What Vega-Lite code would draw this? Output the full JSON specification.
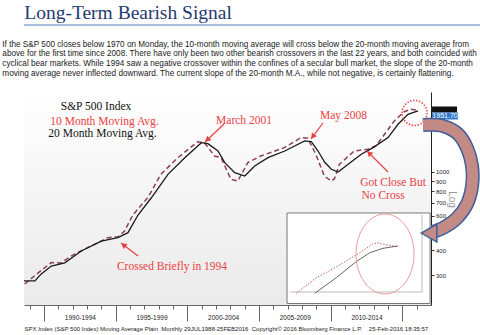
{
  "$schema": "https://vega.github.io/schema/vega-lite/v6.json",
  "padding": {"left": 2, "right": 0, "top": 2, "bottom": 0},
  "spacing": 13,
  "config": {"view": {"stroke": null}, "font": "Liberation Sans"},
  "datasets": {
    "ma20": [
      {"t": 1988.60, "v": 280}, {"t": 1989.37, "v": 280}, {"t": 1989.79, "v": 303}, {"t": 1990.51, "v": 333},
      {"t": 1991.45, "v": 346}, {"t": 1992.60, "v": 397}, {"t": 1994.00, "v": 446}, {"t": 1995.16, "v": 464},
      {"t": 1995.86, "v": 492}, {"t": 1996.56, "v": 605}, {"t": 1997.49, "v": 740}, {"t": 1998.65, "v": 973},
      {"t": 1999.82, "v": 1182}, {"t": 2000.98, "v": 1408}, {"t": 2001.44, "v": 1392}, {"t": 2002.14, "v": 1278},
      {"t": 2002.61, "v": 1115}, {"t": 2003.31, "v": 992}, {"t": 2004.01, "v": 954}, {"t": 2004.70, "v": 1073},
      {"t": 2005.63, "v": 1182}, {"t": 2006.80, "v": 1278}, {"t": 2008.19, "v": 1437}, {"t": 2008.65, "v": 1425},
      {"t": 2009.12, "v": 1278}, {"t": 2009.59, "v": 1120}, {"t": 2010.05, "v": 1032}, {"t": 2010.52, "v": 1000},
      {"t": 2011.22, "v": 1094}, {"t": 2012.14, "v": 1230}, {"t": 2012.96, "v": 1329}, {"t": 2014.01, "v": 1494},
      {"t": 2014.70, "v": 1747}, {"t": 2015.40, "v": 1963}, {"t": 2016.10, "v": 2040}
    ],
    "ma10": [
      {"t": 1988.65, "v": 270}, {"t": 1989.93, "v": 322}, {"t": 1990.51, "v": 347}, {"t": 1991.18, "v": 345},
      {"t": 1991.90, "v": 375}, {"t": 1993.28, "v": 421}, {"t": 1994.46, "v": 464}, {"t": 1995.16, "v": 469},
      {"t": 1995.62, "v": 502}, {"t": 1996.20, "v": 605}, {"t": 1997.26, "v": 744}, {"t": 1998.15, "v": 973},
      {"t": 1999.34, "v": 1182}, {"t": 2000.73, "v": 1425}, {"t": 2001.20, "v": 1408}, {"t": 2001.90, "v": 1206},
      {"t": 2002.36, "v": 1182}, {"t": 2002.72, "v": 1032}, {"t": 2003.05, "v": 918}, {"t": 2003.52, "v": 900},
      {"t": 2004.22, "v": 1115}, {"t": 2005.12, "v": 1206}, {"t": 2006.77, "v": 1329}, {"t": 2007.93, "v": 1494},
      {"t": 2008.40, "v": 1483}, {"t": 2008.96, "v": 1234}, {"t": 2009.56, "v": 954}, {"t": 2010.05, "v": 900},
      {"t": 2010.26, "v": 922}, {"t": 2010.61, "v": 1094}, {"t": 2011.65, "v": 1278}, {"t": 2012.58, "v": 1304},
      {"t": 2013.16, "v": 1355}, {"t": 2014.44, "v": 1815}, {"t": 2015.13, "v": 2023}, {"t": 2015.60, "v": 2081},
      {"t": 2016.10, "v": 2057}
    ],
    "insetDot": [
      {"t": 2007.607, "v": 242.3}, {"t": 2009.003, "v": 290.7}, {"t": 2010.517, "v": 333.3}, {"t": 2012.031, "v": 389.4},
      {"t": 2012.959, "v": 432.5}, {"t": 2013.308, "v": 437.6}, {"t": 2013.657, "v": 429.5}, {"t": 2014.704, "v": 417.6}
    ],
    "insetSolid": [
      {"t": 2008.891, "v": 242.3}, {"t": 2010.398, "v": 290.7}, {"t": 2011.682, "v": 346.4}, {"t": 2012.729, "v": 389.4},
      {"t": 2013.657, "v": 409.9}, {"t": 2014.704, "v": 421.1}
    ],
    "bigArrow": [
      {"i": 0, "t": 2016.448, "v": 1733}, {"i": 1, "t": 2017.844, "v": 1712}, {"i": 2, "t": 2018.891, "v": 1559},
      {"i": 3, "t": 2019.519, "v": 1323}, {"i": 4, "t": 2019.868, "v": 1073}, {"i": 5, "t": 2019.868, "v": 849},
      {"i": 6, "t": 2019.519, "v": 688}, {"i": 7, "t": 2018.821, "v": 584}, {"i": 8, "t": 2017.844, "v": 520},
      {"i": 9, "t": 2017.146, "v": 496}
    ],
    "redArrows": [
      {"t": 2002.561, "v": 1753, "t2": 2001.235, "v2": 1420},
      {"t": 2009.470, "v": 1773, "t2": 2008.632, "v2": 1471},
      {"t": 2014.006, "v": 1000, "t2": 2012.540, "v2": 1278},
      {"t": 1996.560, "v": 374.6, "t2": 1995.373, "v2": 436}
    ],
    "blackText": [
      {"t": 1993.629, "v": 2138, "label": "S&P 500 Index"},
      {"t": 1994.082, "v": 1559, "label": "20 Month Moving Avg."}
    ],
    "redText": [
      {"t": 1994.222, "v": 1800, "label": "10 Month Moving Avg."},
      {"t": 2003.957, "v": 1815, "label": "March 2001"},
      {"t": 2010.900, "v": 1924, "label": "May 2008"},
      {"t": 2014.355, "v": 876, "label": "Got Close But"},
      {"t": 2013.657, "v": 755, "label": "No Cross"},
      {"t": 1998.932, "v": 329.5, "label": "Crossed Briefly in 1994"}
    ]
  },
  "vconcat": [
    {
      "width": 472,
      "height": 1,
      "title": {"text": "Long-Term Bearish Signal", "anchor": "start", "dx": 1, "font": "Liberation Serif", "fontSize": 19.5, "fontWeight": "normal", "color": "#1F3B70", "offset": 1},
      "data": {"values": [{"v": 0}]},
      "mark": {"type": "rule", "color": "#8EA9D8", "strokeWidth": 1.5},
      "encoding": {"y": {"field": "v", "type": "quantitative", "axis": null, "scale": {"domain": [0, 1]}}}
    },
    {
      "width": 407,
      "height": 213,
      "title": {
        "text": [
          "If the S&P 500 closes below 1970 on Monday, the 10-month moving average will cross below the 20-month moving average from",
          "above for the first time since 2008. There have only been two other bearish crossovers in the last 22 years, and both coincided with",
          "cyclical bear markets. While 1994 saw a negative crossover within the confines of a secular bull market, the slope of the 20-month",
          "moving average never inflected downward. The current slope of the 20-month M.A., while not negative, is certainly flattening."
        ],
        "anchor": "start", "dx": -19, "font": "Liberation Sans", "fontSize": 8.2, "fontWeight": "normal", "color": "#1a1a1a", "lineHeight": 9.7, "offset": 14
      },
      "encoding": {
        "x": {
          "field": "t", "type": "quantitative",
          "scale": {"domain": [1988.604, 2017.004], "nice": false, "zero": false},
          "axis": {
            "values": [1989, 1990, 1991, 1992, 1993, 1994, 1995, 1996, 1997, 1998, 1999, 2000, 2001, 2002, 2003, 2004, 2005, 2006, 2007, 2008, 2009, 2010, 2011, 2012, 2013, 2014, 2015, 2016, 1992.5, 1997.5, 2002.5, 2007.5, 2012.5],
            "labelExpr": "datum.value % 5 == 2.5 ? (datum.value - 2.5) + '-' + (datum.value + 1.5) : ''",
            "tickSize": {"condition": {"test": "datum.value % 5 == 0", "value": 16}, "value": 4},
            "tickOpacity": {"condition": {"test": "datum.value % 5 == 2.5", "value": 0}, "value": 1},
            "tickColor": "#666", "domainColor": "#666", "grid": false,
            "labelFontSize": 6.5, "labelColor": "#222", "labelPadding": 5, "labelOverlap": false, "labelFlush": false,
            "title": "SPX Index (S&P 500 Index) Moving Average Plain\u00a0\u00a0Monthly 29JUL1988-25FEB2016\u00a0\u00a0Copyright\u00a9 2016 Bloomberg Finance L.P.\u00a0\u00a0\u00a0\u00a025-Feb-2016 18:35:57",
            "titleFontSize": 6.0, "titleFontWeight": "normal", "titleColor": "#222", "titleX": 0, "titleY": 23, "titleAlign": "left", "titleBaseline": "middle"
          }
        },
        "y": {
          "field": "v", "type": "quantitative",
          "scale": {"type": "log", "domain": [211.3, 2547], "nice": false, "zero": false},
          "axis": {
            "orient": "right", "values": [300, 400, 600, 700, 800, 900, 1000], "format": "d",
            "tickSize": 3, "tickColor": "#333", "domainColor": "#222", "grid": false,
            "labelFontSize": 6, "labelPadding": 1.5, "labelColor": "#222",
            "title": "Log", "titleAngle": 90, "titleFontSize": 10, "titleColor": "#999", "titleFontWeight": "normal",
            "titleX": 20, "titleY": 107, "titleAlign": "center", "titleBaseline": "middle"
          }
        }
      },
      "layer": [
        {
          "data": {"values": [{"t": 1988.604, "t2": 2017.004, "v": 211.3, "v2": 2547}]},
          "mark": {"type": "rect", "color": {"gradient": "linear", "x1": 0, "y1": 0, "x2": 0, "y2": 1, "stops": [{"offset": 0, "color": "#FFFFFF"}, {"offset": 1, "color": "#EAEAEA"}]}},
          "encoding": {"x2": {"field": "t2"}, "y2": {"field": "v2"}}
        },
        {
          "data": {"name": "ma10"},
          "mark": {"type": "line", "color": "#8E3F55", "strokeDash": [5, 3], "strokeWidth": 1.5},
          "encoding": {}
        },
        {
          "data": {"name": "ma20"},
          "mark": {"type": "line", "color": "#1a1a1a", "strokeWidth": 1.3},
          "encoding": {}
        },
        {
          "data": {"name": "blackText"},
          "mark": {"type": "text", "font": "Liberation Serif", "fontSize": 11.5, "color": "#111", "align": "center", "baseline": "middle"},
          "encoding": {"text": {"field": "label"}}
        },
        {
          "data": {"name": "redText"},
          "mark": {"type": "text", "font": "Liberation Serif", "fontSize": 11.5, "color": "#E8403F", "align": "center", "baseline": "middle"},
          "encoding": {"text": {"field": "label"}}
        },
        {
          "data": {"name": "redArrows"},
          "mark": {"type": "rule", "color": "#E8403F", "strokeWidth": 1.2},
          "encoding": {"x2": {"field": "t2"}, "y2": {"field": "v2"}}
        },
        {
          "data": {"values": [{"t": 2001.389, "v": 1455}]},
          "mark": {"type": "point", "shape": "triangle-up", "angle": 226.5, "filled": true, "color": "#E8403F", "size": 40, "opacity": 1},
          "encoding": {}
        },
        {
          "data": {"values": [{"t": 2008.758, "v": 1512}]},
          "mark": {"type": "point", "shape": "triangle-up", "angle": 216.9, "filled": true, "color": "#E8403F", "size": 40, "opacity": 1},
          "encoding": {}
        },
        {
          "data": {"values": [{"t": 2012.687, "v": 1247}]},
          "mark": {"type": "point", "shape": "triangle-up", "angle": 315, "filled": true, "color": "#E8403F", "size": 40, "opacity": 1},
          "encoding": {}
        },
        {
          "data": {"values": [{"t": 1995.541, "v": 427}]},
          "mark": {"type": "point", "shape": "triangle-up", "angle": 307.4, "filled": true, "color": "#E8403F", "size": 40, "opacity": 1},
          "encoding": {}
        },
        {
          "data": {"values": [{"t": 2006.957, "t2": 2016.937, "v": 215.0, "v2": 619.4}]},
          "mark": {"type": "rect", "fill": "#FFFFFF", "stroke": "#777", "strokeWidth": 1},
          "encoding": {"x2": {"field": "t2"}, "y2": {"field": "v2"}}
        },
        {
          "data": {"values": [{"t": 2016.378, "t2": 2016.378, "v": 246, "v2": 605}, {"t": 2007.167, "t2": 2016.378, "v": 246, "v2": 246}]},
          "mark": {"type": "rule", "color": "#AAAAAA", "strokeWidth": 0.8},
          "encoding": {"x2": {"field": "t2"}, "y2": {"field": "v2"}}
        },
        {
          "data": {"name": "insetDot"},
          "mark": {"type": "line", "color": "#D06070", "strokeDash": [1.5, 1.5], "strokeWidth": 1},
          "encoding": {}
        },
        {
          "data": {"name": "insetSolid"},
          "mark": {"type": "line", "color": "#555", "strokeWidth": 0.9},
          "encoding": {}
        },
        {
          "data": {"values": [{"t": 2013.796, "v": 383.5}]},
          "mark": {"type": "point", "shape": "M -0.725 0 A 0.725 1 0 1 1 0.725 0 A 0.725 1 0 1 1 -0.725 0 Z", "filled": false, "stroke": "#EE9A9A", "strokeWidth": 1, "size": 6400, "opacity": 1},
          "encoding": {}
        },
        {
          "data": {"values": [{"t": 2015.855, "v": 1993}]},
          "mark": {"type": "point", "shape": "circle", "filled": false, "stroke": "#E84C4C", "strokeDash": [1.5, 1.5], "strokeWidth": 1.6, "size": 625, "opacity": 1},
          "encoding": {}
        },
        {
          "data": {"values": [{"t": 2017.076, "t2": 2018.821, "v": 2005, "v2": 2150}]},
          "mark": {"type": "rect", "color": "#111111"},
          "encoding": {"x2": {"field": "t2"}, "y2": {"field": "v2"}}
        },
        {
          "data": {"values": [{"t": 2017.076, "t2": 2018.891, "v": 1847, "v2": 2005}]},
          "mark": {"type": "rect", "color": "#2F78C8"},
          "encoding": {"x2": {"field": "t2"}, "y2": {"field": "v2"}}
        },
        {
          "data": {"values": [{"t": 2017.983, "v": 1924, "label": "1951.70"}]},
          "mark": {"type": "text", "color": "#FFFFFF", "fontSize": 7, "align": "center", "baseline": "middle"},
          "encoding": {"text": {"field": "label"}}
        },
        {
          "data": {"name": "bigArrow"},
          "mark": {"type": "line", "color": "#3F5F9A", "strokeWidth": 14, "strokeCap": "butt", "interpolate": "catmull-rom"},
          "encoding": {"order": {"field": "i", "type": "quantitative"}}
        },
        {
          "data": {"name": "bigArrow"},
          "mark": {"type": "line", "color": "#C48A86", "strokeWidth": 11, "strokeCap": "butt", "interpolate": "catmull-rom"},
          "encoding": {"order": {"field": "i", "type": "quantitative"}}
        },
        {
          "data": {"values": [{"t": 2016.867, "v": 490}]},
          "mark": {"type": "point", "shape": "triangle-left", "filled": true, "fill": "#C48A86", "stroke": "#3F5F9A", "strokeWidth": 1.5, "size": 324, "opacity": 1},
          "encoding": {}
        }
      ]
    }
  ]
}
